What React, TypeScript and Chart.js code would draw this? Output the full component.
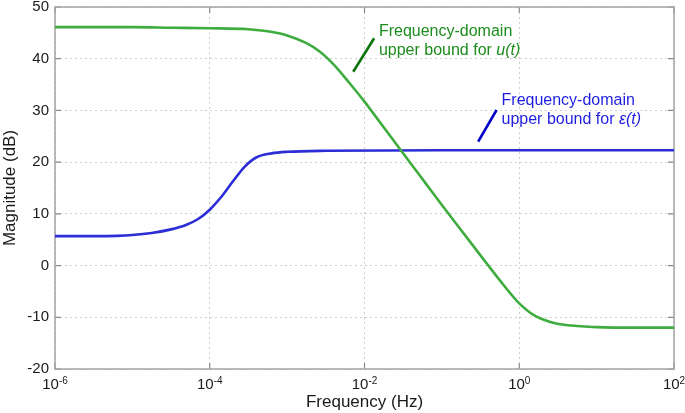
import React, { useEffect, useRef } from "react";
import { Chart, registerables } from "chart.js";

Chart.register(...registerables);

// ---- data ----
// log10 of frequency (Hz) and magnitude (dB)
const greenLogF = [-6, -5, -4.5, -4, -3.5, -3.25, -3.0, -2.75, -2.58, -2.4, -2.2, -2.0, -1.8, -1.6, -1.4, -1.2, -1.0, -0.8, -0.6, -0.4, -0.2, 0, 0.2, 0.4, 0.6, 1.0, 1.5, 2];
const greenDb = [46.1, 46.1, 46.0, 45.9, 45.7, 45.3, 44.5, 43.0, 41.4, 38.9, 35.4, 31.7, 27.7, 23.7, 19.7, 15.7, 11.7, 7.8, 3.9, 0.0, -3.8, -7.3, -9.7, -10.9, -11.5, -11.9, -12.0, -12.0];

const blueLogF = [-6, -5.5, -5.2, -5.0, -4.75, -4.5, -4.3, -4.15, -4.0, -3.85, -3.7, -3.55, -3.4, -3.2, -3.0, -2.5, -1, 0, 2];
const blueDb = [5.7, 5.7, 5.75, 5.9, 6.3, 7.0, 7.9, 9.0, 10.8, 13.3, 16.3, 19.1, 20.9, 21.7, 22.0, 22.2, 22.3, 22.3, 22.3];

const xTickExponents = [-6, -4, -2, 0, 2];
const yTickValues = [-20, -10, 0, 10, 20, 30, 40, 50];

const xTitle = "Frequency (Hz)";
const yTitle = "Magnitude (dB)";
const noteLine1 = "Frequency-domain";
const noteLine2 = "upper bound for ";
const greenNoteVar = "u(t)";
const blueNoteVar = "ε(t)";

// annotation anchors in data coordinates (log10 f, dB)
const greenNoteAt = [-1.814, 44.39];
const greenPointerFrom = [-2.146, 37.49];
const greenPointerTo = [-1.875, 43.95];
const blueNoteAt = [-0.229, 31.05];
const bluePointerFrom = [-0.531, 23.95];
const bluePointerTo = [-0.293, 30.08];

const FONT = "'Liberation Sans', Arial, Helvetica, sans-serif";

const GREEN_LINE = "rgb(62,172,62)";
const GREEN_TEXT = "rgb(28,140,28)";
const GREEN_PTR = "rgb(10,115,10)";
const BLUE_LINE = "rgb(45,45,215)";
const BLUE_TEXT = "rgb(30,30,225)";
const BLUE_PTR = "rgb(0,0,200)";

const toPoints = (lf: number[], db: number[]) =>
  lf.map((e, i) => ({ x: Math.pow(10, e), y: db[i] }));

const decorPlugin = {
  id: "decor",
  beforeDatasetsDraw(chart: any) {
    const { ctx, chartArea } = chart;
    const xs = chart.scales.x;
    const ys = chart.scales.y;
    ctx.save();
    // inward ticks
    ctx.strokeStyle = "#8a8a8a";
    ctx.lineWidth = 1.2;
    const tl = 6;
    ctx.beginPath();
    yTickValues.forEach((v) => {
      const py = ys.getPixelForValue(v);
      ctx.moveTo(chartArea.left, py);
      ctx.lineTo(chartArea.left + tl, py);
      ctx.moveTo(chartArea.right, py);
      ctx.lineTo(chartArea.right - tl, py);
    });
    xTickExponents.forEach((e) => {
      const px = xs.getPixelForValue(Math.pow(10, e));
      ctx.moveTo(px, chartArea.bottom);
      ctx.lineTo(px, chartArea.bottom - tl);
      ctx.moveTo(px, chartArea.top);
      ctx.lineTo(px, chartArea.top + tl);
    });
    ctx.stroke();
    // frame
    ctx.strokeStyle = "#a4a4a4";
    ctx.lineWidth = 1.5;
    ctx.strokeRect(chartArea.left, chartArea.top, chartArea.right - chartArea.left, chartArea.bottom - chartArea.top);
    ctx.restore();
  },
  afterDraw(chart: any) {
    const { ctx, chartArea } = chart;
    const xs = chart.scales.x;
    const ys = chart.scales.y;
    ctx.save();
    // x tick labels: 10 with superscript exponent
    xTickExponents.forEach((e) => {
      const px = xs.getPixelForValue(Math.pow(10, e));
      const base = "10";
      const exp = String(e);
      ctx.font = `15px ${FONT}`;
      const wb = ctx.measureText(base).width;
      ctx.font = `10px ${FONT}`;
      const we = ctx.measureText(exp).width;
      const x0 = px - (wb + we) / 2;
      ctx.fillStyle = "#1a1a1a";
      ctx.textAlign = "left";
      ctx.textBaseline = "alphabetic";
      ctx.font = `15px ${FONT}`;
      ctx.fillText(base, x0, chartArea.bottom + 19.5);
      ctx.font = `10px ${FONT}`;
      ctx.fillText(exp, x0 + wb, chartArea.bottom + 14.5);
    });

    const drawNote = (at: number[], varText: string, color: string) => {
      const x = xs.getPixelForValue(Math.pow(10, at[0]));
      const y = ys.getPixelForValue(at[1]);
      ctx.fillStyle = color;
      ctx.textAlign = "left";
      ctx.textBaseline = "alphabetic";
      ctx.font = `16px ${FONT}`;
      ctx.fillText(noteLine1, x, y);
      ctx.fillText(noteLine2, x, y + 19);
      const w = ctx.measureText(noteLine2).width;
      ctx.font = `italic 16px ${FONT}`;
      ctx.fillText(varText, x + w, y + 19);
    };
    const drawPtr = (a: number[], b: number[], color: string) => {
      ctx.strokeStyle = color;
      ctx.lineWidth = 2.6;
      ctx.beginPath();
      ctx.moveTo(xs.getPixelForValue(Math.pow(10, a[0])), ys.getPixelForValue(a[1]));
      ctx.lineTo(xs.getPixelForValue(Math.pow(10, b[0])), ys.getPixelForValue(b[1]));
      ctx.stroke();
    };
    drawNote(greenNoteAt, greenNoteVar, GREEN_TEXT);
    drawPtr(greenPointerFrom, greenPointerTo, GREEN_PTR);
    drawNote(blueNoteAt, blueNoteVar, BLUE_TEXT);
    drawPtr(bluePointerFrom, bluePointerTo, BLUE_PTR);
    ctx.restore();
  },
};

export default function App() {
  const canvasRef = useRef<HTMLCanvasElement | null>(null);

  useEffect(() => {
    const canvas = canvasRef.current;
    if (!canvas) return;
    const chart = new Chart(canvas, {
      type: "line",
      data: {
        datasets: [
          {
            label: "Frequency-domain upper bound for u(t)",
            data: toPoints(greenLogF, greenDb),
            borderColor: GREEN_LINE,
            borderWidth: 2.6,
            pointRadius: 0,
            cubicInterpolationMode: "monotone",
            fill: false,
          },
          {
            label: "Frequency-domain upper bound for ε(t)",
            data: toPoints(blueLogF, blueDb),
            borderColor: BLUE_LINE,
            borderWidth: 2.6,
            pointRadius: 0,
            cubicInterpolationMode: "monotone",
            fill: false,
          },
        ],
      },
      options: {
        responsive: false,
        animation: false,
        devicePixelRatio: 1,
        layout: { padding: { top: 7, right: 11, left: 0, bottom: 0 } },
        plugins: {
          legend: { display: false },
          tooltip: { enabled: false },
        },
        scales: {
          x: {
            type: "logarithmic",
            min: 1e-6,
            max: 1e2,
            afterBuildTicks: (s: any) => {
              s.ticks = xTickExponents.map((e) => ({ value: Math.pow(10, e) }));
            },
            ticks: { display: false },
            grid: { color: "#cfcfcf", lineWidth: 1, drawTicks: false },
            border: { display: false, dash: [2, 3] },
            title: {
              display: true,
              text: xTitle,
              color: "#1a1a1a",
              font: { family: FONT, size: 17 },
              padding: { top: 20, bottom: 0 },
            },
            afterFit: (s: any) => {
              s.height = 44;
              s.paddingLeft = 0;
              s.paddingRight = 0;
            },
          },
          y: {
            type: "linear",
            min: -20,
            max: 50,
            afterBuildTicks: (s: any) => {
              s.ticks = yTickValues.map((v) => ({ value: v }));
            },
            ticks: {
              color: "#1a1a1a",
              font: { family: FONT, size: 15 },
              padding: 6,
            },
            grid: { color: "#cfcfcf", lineWidth: 1, drawTicks: false },
            border: { display: false, dash: [2, 3] },
            title: {
              display: true,
              text: yTitle,
              color: "#1a1a1a",
              font: { family: FONT, size: 17 },
              padding: { top: 0, bottom: 0 },
            },
            afterFit: (s: any) => {
              s.width = 55;
              s.paddingTop = 0;
              s.paddingBottom = 0;
            },
          },
        },
      },
      plugins: [decorPlugin],
    } as any);
    return () => chart.destroy();
  }, []);

  return (
    <div style={{ position: "absolute", left: 0, top: 0, width: 685, height: 413, background: "#fff" }}>
      <canvas ref={canvasRef} width={685} height={413} style={{ display: "block" }} />
    </div>
  );
}
